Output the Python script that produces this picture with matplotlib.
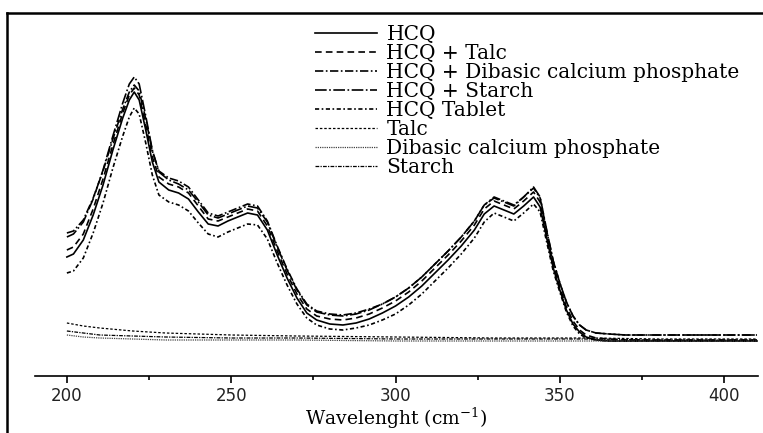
# -*-coding:utf-8-*-

import matplotlib.pyplot as plt
from matplotlib.lines import Line2D
from matplotlib.ticker import MultipleLocator

# wavelength grid for the HCQ spectra
listWave = [200, 202, 205, 208, 211, 214, 217, 219, 220.5, 222, 224, 226, 228, 231, 234,
            237, 240, 243, 246, 249, 252, 255, 258, 261, 264, 267, 270, 273, 276, 280,
            284, 288, 292, 296, 300, 304, 308, 312, 316, 320, 324, 327, 330, 333, 336,
            339, 342, 344, 346, 348, 350, 352, 354, 356, 358, 361, 365, 370, 380, 390,
            400, 410]

hcq = [1.19, 1.22, 1.36, 1.61, 1.91, 2.26, 2.58, 2.76, 2.84, 2.76, 2.46, 2.14, 1.94, 1.86, 1.83,
       1.77, 1.64, 1.52, 1.50, 1.55, 1.59, 1.63, 1.61, 1.46, 1.21, 0.98, 0.78, 0.63, 0.56, 0.52,
       0.51, 0.53, 0.57, 0.63, 0.70, 0.79, 0.90, 1.03, 1.16, 1.30, 1.46, 1.62, 1.70, 1.66, 1.62,
       1.70, 1.79, 1.69, 1.38, 1.08, 0.86, 0.66, 0.52, 0.44, 0.39, 0.36, 0.35, 0.35, 0.35, 0.35,
       0.35, 0.35]

hcqTalc = [1.26, 1.29, 1.42, 1.67, 1.97, 2.31, 2.63, 2.81, 2.88, 2.81, 2.51, 2.19, 1.99, 1.92, 1.89,
           1.83, 1.70, 1.57, 1.55, 1.59, 1.63, 1.67, 1.65, 1.50, 1.25, 1.02, 0.82, 0.67, 0.60, 0.57,
           0.56, 0.58, 0.62, 0.68, 0.75, 0.84, 0.95, 1.08, 1.21, 1.35, 1.51, 1.67, 1.75, 1.71, 1.67,
           1.75, 1.84, 1.74, 1.42, 1.11, 0.89, 0.69, 0.55, 0.46, 0.41, 0.38, 0.37, 0.36, 0.36, 0.36,
           0.36, 0.36]

hcqDcp = [1.43, 1.45, 1.56, 1.78, 2.05, 2.37, 2.67, 2.84, 2.91, 2.85, 2.57, 2.25, 2.05, 1.98, 1.95,
          1.89, 1.76, 1.63, 1.60, 1.64, 1.68, 1.72, 1.70, 1.55, 1.30, 1.07, 0.87, 0.72, 0.65, 0.62,
          0.61, 0.63, 0.67, 0.72, 0.79, 0.88, 0.99, 1.12, 1.25, 1.39, 1.55, 1.71, 1.79, 1.75, 1.71,
          1.79, 1.88, 1.78, 1.45, 1.15, 0.93, 0.74, 0.60, 0.51, 0.46, 0.43, 0.42, 0.41, 0.41, 0.41,
          0.41, 0.41]

hcqStarch = [1.39, 1.42, 1.54, 1.77, 2.06, 2.40, 2.73, 2.92, 2.99, 2.92, 2.60, 2.26, 2.04, 1.96, 1.92,
             1.86, 1.74, 1.61, 1.58, 1.62, 1.66, 1.70, 1.68, 1.54, 1.29, 1.06, 0.86, 0.71, 0.64, 0.61,
             0.60, 0.62, 0.66, 0.72, 0.79, 0.88, 0.99, 1.12, 1.25, 1.39, 1.55, 1.71, 1.78, 1.74, 1.70,
             1.79, 1.89, 1.79, 1.46, 1.15, 0.93, 0.74, 0.60, 0.51, 0.46, 0.43, 0.42, 0.41, 0.41, 0.41,
             0.41, 0.41]

hcqTablet = [1.03, 1.05, 1.18, 1.43, 1.73, 2.08, 2.40, 2.59, 2.68, 2.62, 2.33, 2.01, 1.81, 1.74, 1.71,
             1.65, 1.53, 1.42, 1.39, 1.44, 1.48, 1.52, 1.51, 1.37, 1.13, 0.91, 0.72, 0.58, 0.51, 0.47,
             0.46, 0.48, 0.51, 0.56, 0.62, 0.71, 0.82, 0.95, 1.08, 1.22, 1.38, 1.54, 1.63, 1.59, 1.55,
             1.63, 1.72, 1.64, 1.34, 1.05, 0.84, 0.64, 0.50, 0.42, 0.38, 0.36, 0.35, 0.35, 0.35, 0.35,
             0.35, 0.35]

# wavelength grid for the excipients
listWaveExc = [200, 205, 210, 220, 230, 250, 270, 300, 330, 360, 380, 410]
talc = [0.53, 0.50, 0.48, 0.45, 0.43, 0.41, 0.40, 0.39, 0.38, 0.38, 0.37, 0.37]
dcp = [0.41, 0.39, 0.38, 0.37, 0.36, 0.36, 0.36, 0.35, 0.35, 0.35, 0.35, 0.35]
starch = [0.45, 0.43, 0.41, 0.40, 0.39, 0.38, 0.38, 0.37, 0.37, 0.37, 0.36, 0.36]

listLabels = ['HCQ', 'HCQ + Talc', 'HCQ + Dibasic calcium phosphate', 'HCQ + Starch',
              'HCQ Tablet', 'Talc', 'Dibasic calcium phosphate', 'Starch']

W, H = 763, 433
fig = plt.figure(figsize=(W / 100, H / 100), dpi=100)
ax = fig.add_axes([35 / W, 1 - 376 / H, (758 - 35) / W, (376 - 13) / H])

lw = 1.2
ax.plot(listWave, hcq, color='black', lw=lw, ls='-', label=listLabels[0])
ax.plot(listWave, hcqTalc, color='black', lw=lw, ls=(0, (4, 2.5)), label=listLabels[1])
ax.plot(listWave, hcqDcp, color='black', lw=lw, ls=(0, (5, 1.5, 1, 1.5)), label=listLabels[2])
ax.plot(listWave, hcqStarch, color='black', lw=lw, ls=(0, (7, 1.5, 1, 1.5)), label=listLabels[3])
ax.plot(listWave, hcqTablet, color='black', lw=lw, ls=(0, (2.5, 1.5, 1, 1.5)), label=listLabels[4])
ax.plot(listWaveExc, talc, color='black', lw=0.9, ls=(0, (2, 1.5)), label=listLabels[5])
ax.plot(listWaveExc, dcp, color='#444444', lw=0.9, ls=(0, (1, 0.8)), label=listLabels[6])
ax.plot(listWaveExc, starch, color='black', lw=0.9, ls=(0, (3, 1, 1, 1)), label=listLabels[7])

ax.set_xlim(190.3, 410.3)
ax.set_ylim(0, 3.63)

# only the bottom axis is drawn
for side in ['left', 'right', 'top']:
    ax.spines[side].set_visible(False)
ax.spines['bottom'].set_linewidth(1.2)
ax.set_yticks([])
ax.set_xticks([200, 250, 300, 350, 400])
ax.xaxis.set_minor_locator(MultipleLocator(25))
ax.tick_params(axis='x', which='major', direction='out', length=5, width=1.2, pad=3,
               labelsize=12, labelcolor='#222222')
ax.tick_params(axis='x', which='minor', direction='out', length=3, width=1.2)
for t in ax.get_xticklabels():
    t.set_fontfamily('DejaVu Sans')

ax.set_xlabel('Wavelenght (cm$^{\\mathregular{-1}}$)', family='DejaVu Serif', fontsize=13.5,
              labelpad=0)

leg = ax.legend(loc='upper left', bbox_to_anchor=(315 / W, 1 - 25 / H),
                bbox_transform=fig.transFigure, frameon=False, borderpad=0,
                borderaxespad=0, handlelength=3.1, handletextpad=0.45, labelspacing=0.0,
                prop={'family': 'DejaVu Serif', 'size': 14.5})

# border of the original picture (left and top only)
fig.add_artist(Line2D([7 / W, 7 / W], [0, 1 - 13 / H], color='black', lw=1.8,
                      transform=fig.transFigure))
fig.add_artist(Line2D([7 / W, 1], [1 - 13 / H, 1 - 13 / H], color='black', lw=1.8,
                      transform=fig.transFigure))

fig.savefig('out.png', dpi=100)
